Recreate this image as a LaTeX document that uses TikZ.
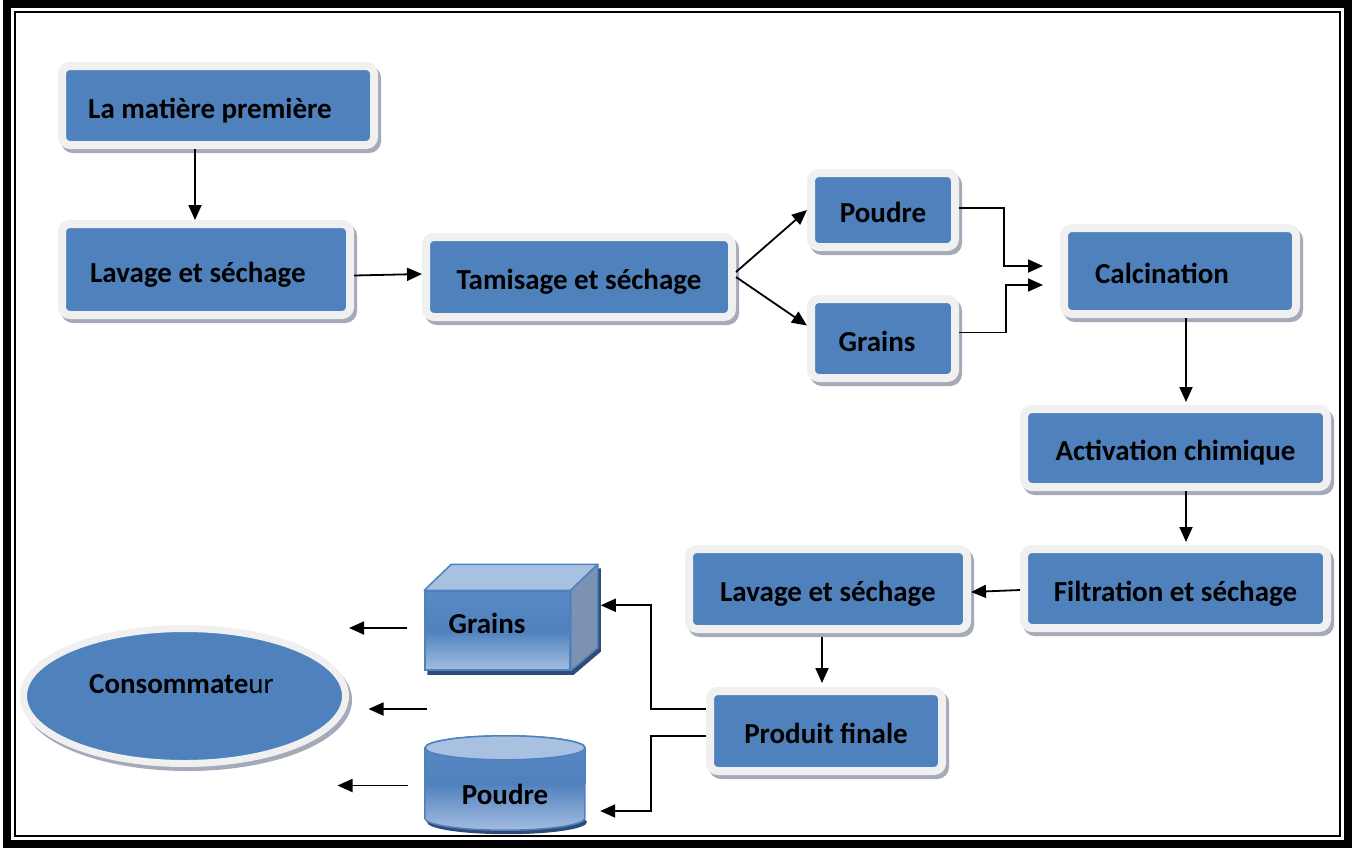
\documentclass[tikz,border=0pt]{standalone}
\usepackage{fontspec}
\setmainfont{Carlito}
\usetikzlibrary{shapes.geometric,shadows,arrows.meta,calc}
\pgfdeclarelayer{background}
\pgfsetlayers{background,main}
\definecolor{boxblue}{HTML}{4F81BD}
\definecolor{rimgray}{HTML}{F0F0F0}
\definecolor{shadowgray}{HTML}{A4AAB7}
\definecolor{topface}{HTML}{A9C1E1}
\definecolor{sideface}{HTML}{7B92B2}
\definecolor{cubeedge}{HTML}{4F81BD}
\definecolor{darkshadow}{HTML}{2F4C78}
\definecolor{faceTop}{HTML}{5A8AC6}
\definecolor{faceBot}{HTML}{A3BCE0}
\begin{document}
\begin{tikzpicture}[x=1pt,y=-1pt,
  boxfont/.style={font=\bfseries\fontsize{29}{34}\selectfont},
  pbox/.style={rectangle, rounded corners=8pt, fill=boxblue, draw=rimgray, line width=8pt,
    inner sep=0pt, boxfont, text=black, text height=30pt, text depth=5pt,
    drop shadow={shadow xshift=3pt, shadow yshift=-4pt, fill=shadowgray, draw=shadowgray, line width=8pt, opacity=1}},
  arr/.style={-{Triangle[length=15pt,width=13pt]}, line width=1.8pt, black},
  solid3d/.style={draw=cubeedge, line width=1.5pt},
]
\useasboundingbox (0,0) rectangle (1355,847);
\begin{pgfonlayer}{background}
\fill[white] (0,0) rectangle (1355,847);
\end{pgfonlayer}
\draw[line width=8pt] (6.5,4) rectangle (1347.5,844);
\draw[line width=2pt] (14.5,12) rectangle (1339.5,836);

\node[pbox, minimum width=312pt, minimum height=79pt] (m1) at (218,105.5) {\hspace*{-16pt}La matière première};
\node[pbox, minimum width=288pt, minimum height=91pt] (lav1) at (206,269.5) {\hspace*{-16pt}Lavage et séchage};
\node[pbox, minimum width=306pt, minimum height=80pt] (tam) at (579,277) {Tamisage et séchage};
\node[pbox, minimum width=144pt, minimum height=74pt] (pou) at (883,210) {Poudre};
\node[pbox, minimum width=144pt, minimum height=79pt] (gra) at (883,338.5) {\hspace*{-12pt}Grains};
\node[pbox, minimum width=232pt, minimum height=86pt] (cal) at (1180,271) {\hspace*{-36pt}Calcination};
\node[pbox, minimum width=303pt, minimum height=78pt] (act) at (1175.5,448) {Activation chimique};
\node[pbox, minimum width=303pt, minimum height=79pt] (fil) at (1175.5,588.5) {Filtration et séchage};
\node[pbox, minimum width=278pt, minimum height=80pt] (lav2) at (828,589) {Lavage et séchage};
\node[pbox, minimum width=232pt, minimum height=80pt] (pro) at (826,731) {Produit finale};

\node[ellipse, fill=boxblue, draw=rimgray, line width=7pt, minimum width=322pt, minimum height=135pt,
  inner sep=0pt, font=\fontsize{29}{34}\selectfont,
  drop shadow={shadow xshift=3pt, shadow yshift=-4pt, fill=shadowgray, draw=shadowgray, line width=7pt, opacity=1}]
  (con) at (184.5,696) {\hspace*{-6pt}\raisebox{2.7pt}[0pt][0pt]{\bfseries Consommate\mdseries ur}};

% cube
\node[rectangle, solid3d, top color=faceTop, bottom color=faceBot, middle color=boxblue,
  minimum width=145pt, minimum height=79pt, inner sep=0pt, boxfont]
  (cub) at (497.5,630.5) {\hspace*{-21pt}\raisebox{-3pt}[0pt][0pt]{Grains}};
\begin{pgfonlayer}{background}
\fill[darkshadow] ([shift={(3pt,-4pt)}]cub.south west) -- ([shift={(3pt,-4pt)}]cub.south east)
  -- ([shift={(30pt,19pt)}]cub.south east) -- ([shift={(30pt,22pt)}]cub.north east)
  -- ([shift={(30pt,22pt)}]cub.north west) -- ([shift={(3pt,-4pt)}]cub.north west) -- cycle;
\end{pgfonlayer}
\filldraw[solid3d, fill=topface, line join=round] (cub.north west) -- ([shift={(27pt,26pt)}]cub.north west)
  -- ([shift={(27pt,26pt)}]cub.north east) -- (cub.north east) -- cycle;
\filldraw[solid3d, fill=sideface, line join=round] (cub.north east) -- ([shift={(27pt,26pt)}]cub.north east)
  -- ([shift={(27pt,23pt)}]cub.south east) -- (cub.south east) -- cycle;

% cylinder
\node[rectangle, minimum width=160pt, minimum height=70pt, inner sep=0pt, boxfont]
  (cyl) at (505,783) {\raisebox{-21pt}[0pt][0pt]{Poudre}};
\begin{pgfonlayer}{background}
\fill[darkshadow] ([shift={(2pt,-4pt)}]cyl.south) ellipse[x radius=80pt, y radius=12pt];
\path[solid3d, top color=faceTop, bottom color=faceBot, middle color=boxblue]
  (cyl.north west) -- (cyl.south west) arc[start angle=180, end angle=360, x radius=80pt, y radius=12pt]
  -- (cyl.north east) arc[start angle=0, end angle=180, x radius=80pt, y radius=12pt] -- cycle;
\filldraw[solid3d, fill=topface] (cyl.north) ellipse[x radius=80pt, y radius=12pt];
\end{pgfonlayer}

% connectors
\draw[arr] ([xshift=-23pt]m1.south) -- ([xshift=-23pt]m1.south |- lav1.north);
\draw[arr] ([yshift=-6pt]lav1.east) -- ([yshift=3pt]tam.west);
\draw[arr] ([yshift=5pt]tam.east) -- (pou.west);
\draw[arr] (tam.east) -- ([yshift=13pt]gra.west);
\draw[arr, shorten >=17pt] ([yshift=2pt]pou.east) -- ++(45,0) |- ([yshift=5pt]cal.west);
\draw[arr, shorten >=17pt] ([yshift=6pt]gra.east) -- ++(47,0) |- ([yshift=-14pt]cal.west);
\draw[arr, shorten >=3pt] ([xshift=6pt]cal.south) -- ([xshift=6pt]cal.south |- act.north);
\draw[arr, shorten >=3pt] ([xshift=10.5pt]act.south) -- ([xshift=10.5pt]fil.north);
\draw[arr] ([yshift=-1.5pt]fil.west) -- ([yshift=-3pt]lav2.east);
\draw[arr, shorten <=4pt, shorten >=4pt] ([xshift=-6pt]lav2.south) -- ([xshift=-6pt]lav2.south |- pro.north);
\draw[arr] ([yshift=22pt]pro.west) -- ++(-55,0) |- ([shift={(30pt,-15pt)}]cub.north east);
\draw[arr] ([yshift=-5pt]pro.west) -- ++(-55,0) |- ([shift={(15pt,-28pt)}]cyl.east);
\draw[arr, shorten <=17pt] ([yshift=2.5pt]cub.west) -- ([yshift=2.5pt]cub.west -| con.east);
\coordinate (mid) at (427,709);
\draw[arr, shorten >=19.5pt] (mid) -- (mid -| con.east);
\draw[arr, shorten <=17pt, shorten >=-11.5pt] ([yshift=-2.5pt]cyl.west) -- ([yshift=-2.5pt]cyl.west -| con.east);
\end{tikzpicture}
\end{document}
